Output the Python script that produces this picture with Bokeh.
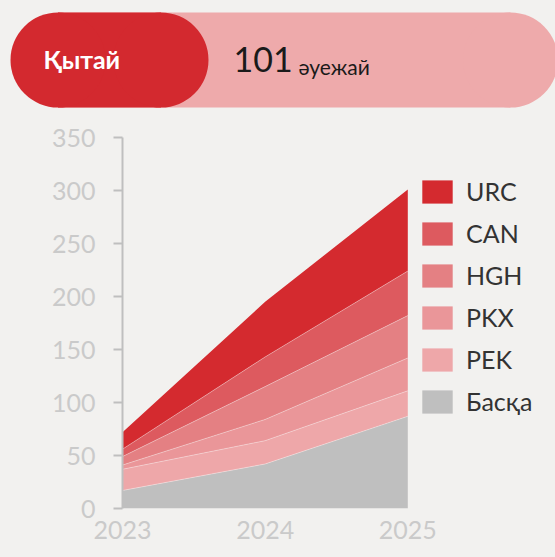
import numpy as np
from bokeh.plotting import figure
from bokeh.models import Legend, LegendItem, ColumnDataSource, FixedTicker
from bokeh.core.properties import value
from bokeh.embed import file_html
from bokeh.resources import INLINE

# ---- data ----
years = [2023, 2024, 2025]
series_names = ["Басқа", "PEK", "PKX", "HGH", "CAN", "URC"]  # bottom -> top
baska = [17, 42, 87]
pek = [20, 22, 24]
pkx = [4, 20, 31]
hgh = [8, 31, 40]
can = [7, 28, 42]
urc = [16, 52, 77]
colors = ["#BFBFBF", "#EEA7A9", "#EA9699", "#E48083", "#DD5A5F", "#D42A2F"]
y_ticks = [0, 50, 100, 150, 200, 250, 300, 350]
title_country = "Қытай"
title_count = "101"
title_unit = "әуежай"

BG = "#F2F1EF"
FONT = "Lato"

# ---- header ----
W = 555
HH = 118
header = figure(width=W, height=HH, x_range=(0, W), y_range=(0, HH),
                output_backend="svg", toolbar_location=None, min_border=0,
                background_fill_color=BG, border_fill_color=BG, outline_line_color=None)
header.axis.visible = False
header.grid.visible = False
cy = 58.5
hh = 95
r = hh / 2
left, pill_right, band_end = 10, 208, 510
# pink band
header.rect(x=[(left + r + band_end) / 2], y=[cy], width=[band_end - left - r], height=[hh], fill_color="#EEAAAB", line_color=None)
header.ellipse(x=[band_end], y=[cy], width=[hh], height=[hh], fill_color="#EEAAAB", line_color=None)
# red pill
header.rect(x=[(left + pill_right) / 2], y=[cy], width=[pill_right - left - 2 * r], height=[hh], fill_color="#D3292F", line_color=None)
header.ellipse(x=[left + r, pill_right - r], y=[cy, cy], width=[hh, hh], height=[hh, hh], fill_color="#D3292F", line_color=None)
header.text(x=[43], y=[59.5], text=[title_country], text_font=value(FONT), text_font_size="25px",
            text_font_style="bold", text_color="white", text_baseline="middle")
header.text(x=[233], y=[59], text=[title_count], text_font=value(FONT), text_font_size="34px",
            text_color="#1A1A1A", text_baseline="middle")
header.text(x=[298], y=[52], text=[title_unit], text_font=value(FONT), text_font_size="21px",
            text_color="#1A1A1A", text_baseline="middle")

# ---- main chart ----
PX_LEFT = 122          # frame left (page px) = position of 2023
PX_PER_YEAR = 142.65   # horizontal scale
x_end = years[0] + (W - PX_LEFT) / PX_PER_YEAR  # frame extends to right edge to host the legend
p = figure(width=W, height=439, x_range=(years[0], x_end), y_range=(0, 350),
           output_backend="svg", toolbar_location=None,
           min_border_left=PX_LEFT, min_border_right=0, min_border_top=19, min_border_bottom=49,
           background_fill_color=BG, border_fill_color=BG, outline_line_color=None)
p.grid.visible = False

data = dict(year=years, baska=baska, pek=pek, pkx=pkx, hgh=hgh, can=can, urc=urc)
src = ColumnDataSource(data)
keys = ["baska", "pek", "pkx", "hgh", "can", "urc"]
renderers = p.varea_stack(stackers=keys, x="year", color=colors, source=src)

# thin light separators between layers
vals = np.array([baska, pek, pkx, hgh, can, urc], dtype=float)
cum = np.cumsum(vals, axis=0)
for i in range(len(keys) - 1):
    p.line(x=years, y=list(cum[i]), line_color="white", line_alpha=0.45, line_width=0.8)

# axes
p.xaxis.ticker = FixedTicker(ticks=years)
p.xaxis.axis_line_color = None
p.xaxis.major_tick_line_color = None
p.xaxis.minor_tick_line_color = None
p.xaxis.major_label_text_font = FONT
p.xaxis.major_label_text_font_size = "25px"
p.xaxis.major_label_text_color = "#CACACA"
p.xaxis.major_label_standoff = 6

p.yaxis.ticker = FixedTicker(ticks=y_ticks)
p.yaxis.axis_line_color = "#BFBFBF"
p.yaxis.axis_line_width = 2
p.yaxis.major_tick_line_color = "#BFBFBF"
p.yaxis.major_tick_line_width = 2
p.yaxis.major_tick_out = 9
p.yaxis.major_tick_in = 0
p.yaxis.minor_tick_line_color = None
p.yaxis.major_label_text_font = FONT
p.yaxis.major_label_text_font_size = "25px"
p.yaxis.major_label_text_color = "#CACACA"
p.yaxis.major_label_standoff = 18

# legend (top = URC), inside the extended frame
items = [LegendItem(label=series_names[i], renderers=[renderers[i]]) for i in reversed(range(len(keys)))]
legend = Legend(items=items, location=(296, 92), margin=0, padding=0,
                glyph_width=38, glyph_height=29, spacing=12, label_standoff=10,
                label_text_font=FONT, label_text_font_size="25px", label_text_color="#333333",
                label_height=29, background_fill_alpha=0, border_line_color=None)
p.add_layout(legend)

html = file_html([header, p], INLINE)
html = html.replace("</head>", "<style>html,body{background-color:#F2F1EF;margin:0;padding:0;}</style></head>", 1)
open("out.html", "w").write(html)
